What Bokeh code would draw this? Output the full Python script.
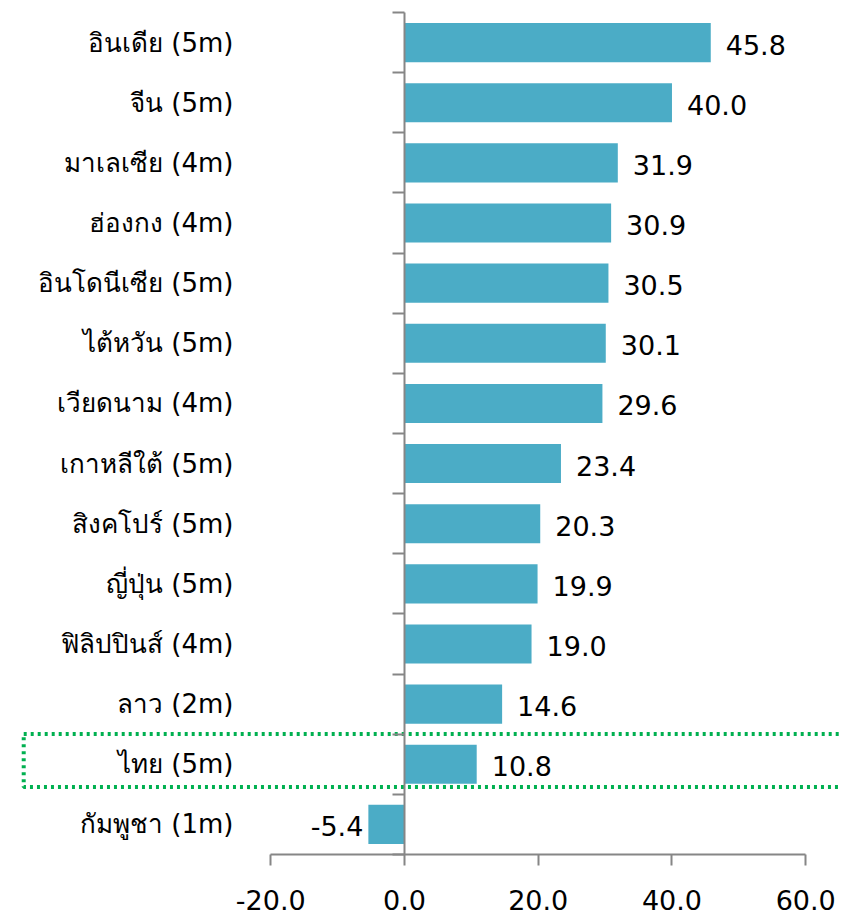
from bokeh.plotting import figure
from bokeh.models import ColumnDataSource, Range1d, FixedTicker
from bokeh.core.properties import value
from bokeh.embed import file_html
from bokeh.resources import INLINE

# ---- data (top to bottom as in the chart) ----
countries = ["อินเดีย (5m)", "จีน (5m)", "มาเลเซีย (4m)", "ฮ่องกง (4m)", "อินโดนีเซีย (5m)",
             "ไต้หวัน (5m)", "เวียดนาม (4m)", "เกาหลีใต้ (5m)", "สิงคโปร์ (5m)", "ญี่ปุ่น (5m)",
             "ฟิลิปปินส์ (4m)", "ลาว (2m)", "ไทย (5m)", "กัมพูชา (1m)"]
values = [45.8, 40.0, 31.9, 30.9, 30.5, 30.1, 29.6, 23.4, 20.3, 19.9, 19.0, 14.6, 10.8, -5.4]
x_ticks = [-20, 0, 20, 40, 60]
x_tick_labels = ["-20.0", "0.0", "20.0", "40.0", "60.0"]
highlight = "ไทย (5m)"

n = len(countries)
idx = [n - 1 - i for i in range(n)]  # top row gets highest y
labels_txt = [f"{v:.1f}" for v in values]

FONT = "DejaVu Sans"
AXIS_COLOR = "#868686"
BAR_COLOR = "#4BACC6"

p = figure(width=841, height=915, output_backend="svg", toolbar_location=None,
           x_range=Range1d(-60.41, 65.35), y_range=Range1d(-1.515, 13.70),
           min_border_left=0, min_border_right=0, min_border_top=0, min_border_bottom=0)
p.outline_line_color = None
p.xgrid.visible = False
p.ygrid.visible = False
p.background_fill_color = "white"
p.border_fill_color = "white"

src = ColumnDataSource(dict(y=idx, v=values, lab=labels_txt))
p.hbar(y="y", left=0, right="v", height=0.65, source=src,
       fill_color=BAR_COLOR, line_color=None)

# value labels
pos = ColumnDataSource(dict(y=[y for y, v in zip(idx, values) if v >= 0],
                            v=[v for v in values if v >= 0],
                            lab=[l for l, v in zip(labels_txt, values) if v >= 0]))
neg = ColumnDataSource(dict(y=[y for y, v in zip(idx, values) if v < 0],
                            v=[v for v in values if v < 0],
                            lab=[l for l, v in zip(labels_txt, values) if v < 0]))
p.text(x="v", y="y", text="lab", source=pos, x_offset=15, y_offset=2,
       text_align="left", text_baseline="middle", text_font=value(FONT),
       text_font_size="27px", text_color="black")
p.text(x="v", y="y", text="lab", source=neg, x_offset=-5, y_offset=2,
       text_align="right", text_baseline="middle", text_font=value(FONT),
       text_font_size="27px", text_color="black")

# highlight box around Thailand
hy = idx[countries.index(highlight)]
p.quad(left=[-56.94], right=[90], top=[hy + 0.503], bottom=[hy - 0.378],
       fill_color=None, line_color="#00B050", line_width=4, line_dash="3 4")

# y axis at x = 0
ya = p.yaxis[0]
ya.fixed_location = 0
ya.bounds = (-0.5, n - 0.5)
ya.ticker = FixedTicker(ticks=idx, minor_ticks=[i - 0.5 for i in range(n + 1)])
ya.major_label_overrides = {y: c for y, c in zip(idx, countries)}
ya.major_tick_line_color = None
ya.major_tick_out = 0
ya.major_tick_in = 0
ya.minor_tick_line_color = AXIS_COLOR
ya.minor_tick_line_width = 2
ya.minor_tick_out = 12
ya.minor_tick_in = 0
ya.axis_line_color = AXIS_COLOR
ya.axis_line_width = 2
ya.major_label_standoff = 159
ya.major_label_text_font = FONT
ya.major_label_text_font_size = "26px"
ya.major_label_text_color = "black"

# x axis at the bottom of the categories
xa = p.xaxis[0]
xa.fixed_location = -0.5
xa.bounds = (x_ticks[0], x_ticks[-1])
xa.ticker = FixedTicker(ticks=x_ticks, minor_ticks=[])
xa.major_label_overrides = {t: l for t, l in zip(x_ticks, x_tick_labels)}
xa.major_tick_line_color = AXIS_COLOR
xa.major_tick_line_width = 2
xa.major_tick_out = 11
xa.major_tick_in = 0
xa.minor_tick_line_color = None
xa.axis_line_color = AXIS_COLOR
xa.axis_line_width = 2
xa.major_label_standoff = 25
xa.major_label_text_font = FONT
xa.major_label_text_font_size = "27px"
xa.major_label_text_color = "black"

open("out.html", "w").write(file_html(p, INLINE))
